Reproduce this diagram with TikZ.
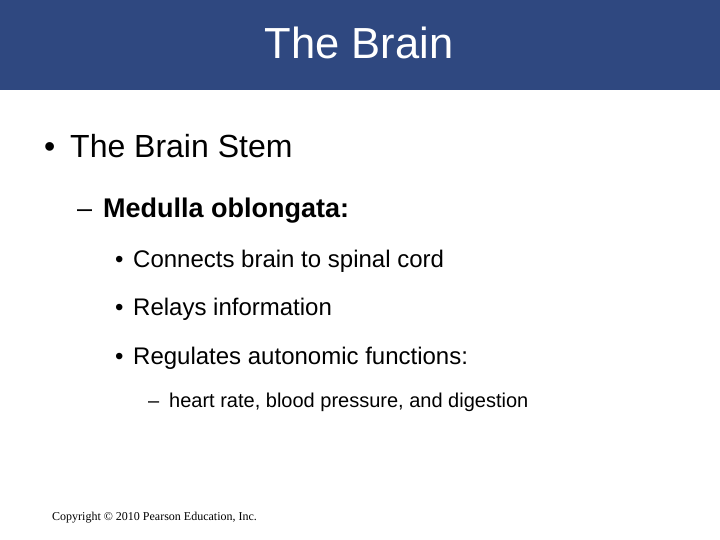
\documentclass[tikz,border=0pt]{standalone}
\usepackage{fontspec}
\setmainfont{Liberation Sans}
\newfontfamily\serifcr{Liberation Serif}
\definecolor{bar}{HTML}{2F4880}
\begin{document}
\begin{tikzpicture}[x=1pt,y=-1pt,
  txt/.style={anchor=base west,inner sep=0pt,text=black},
  f1/.style={font=\fontsize{32}{38}\selectfont},
  f2/.style={font=\fontsize{27}{32}\selectfont},
  f3/.style={font=\fontsize{24}{28}\selectfont},
  f4/.style={font=\fontsize{20}{24}\selectfont}]
\useasboundingbox (0,0) rectangle (720,540);
\fill[white] (0,0) rectangle (720,540);
\fill[bar] (0,0) rectangle (720,90);
\node[anchor=base,inner sep=0pt,text=white,font=\fontsize{43.5}{50}\selectfont] (title) at (359,59) {The Brain};
\node[txt,f1] (m1) at (44,158) {•};
\node[txt,f1] (b1) at (70,158) {The Brain Stem};
\node[txt,f2] (m2) at (77,218) {–};
\node[txt,f2] (b2) at (103,218) {\textbf{Medulla oblongata:}};
\node[txt,f3] (m3) at (115,267) {•};
\node[txt,f3] (b3) at (133,267) {Connects brain to spinal cord};
\node[txt,f3] (m4) at (115,315) {•};
\node[txt,f3] (b4) at (133,315) {Relays information};
\node[txt,f3] (m5) at (115,364) {•};
\node[txt,f3] (b5) at (133,364) {Regulates autonomic functions:};
\node[txt,f4] (m6) at (148,407) {–};
\node[txt,f4] (b6) at (169,407) {heart rate, blood pressure, and digestion};
\node[txt,font=\serifcr\fontsize{12}{14}\selectfont] (cr) at (52,520) {Copyright © 2010 Pearson Education, Inc.};
\end{tikzpicture}
\end{document}
